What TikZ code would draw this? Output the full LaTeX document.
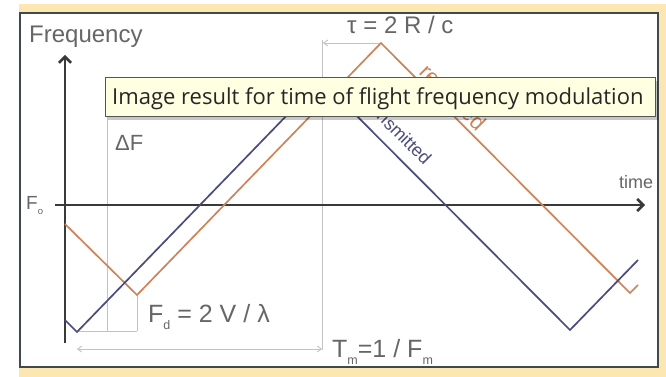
\documentclass[tikz,border=0pt]{standalone}
\usepackage{fontspec}
\setmainfont{Liberation Sans}
\newfontfamily\tipfont{Open Sans}
\usetikzlibrary{arrows.meta}
\definecolor{bgyellow}{HTML}{FCE7B2}
\definecolor{framec}{HTML}{3E4A4C}
\definecolor{axisc}{HTML}{3A3A3A}
\definecolor{bluec}{HTML}{4A4C7C}
\definecolor{orangec}{HTML}{CD845A}
\definecolor{dimc}{HTML}{C2C2C2}
\definecolor{labc}{HTML}{666666}
\definecolor{tipfill}{HTML}{FFFFE1}
\definecolor{tipline}{HTML}{555555}
\newcommand\mysub[1]{\raisebox{-0.3em}{\scalebox{0.5}{#1}}}
\begin{document}
\begin{tikzpicture}[x=1pt,y=-1pt,
  dimline/.style={dimc,line width=0.9pt},
  dimtip/.style={-{Straight Barb[length=4pt,width=6pt]}},
  axisline/.style={axisc,line width=2.6pt,-{Straight Barb[length=6pt,width=12pt]}},
  bluewave/.style={bluec,line width=1.7pt,line join=miter},
  orangewave/.style={orangec,line width=1.7pt,line join=miter},
  lab/.style={labc,inner sep=0pt},
  ]
\useasboundingbox (0,0) rectangle (666,377);
\fill[white] (0,0) rectangle (666,377);
\fill[bgyellow] (19,4) rectangle (666,377);
\draw[framec,line width=1.5pt,fill=white] (20,13) rectangle (658,367);

% wave corner points
\coordinate (b0) at (65,320);
\coordinate (b1) at (77,332);
\coordinate (b2) at (321,80);
\coordinate (b3) at (570,330);
\coordinate (b4) at (638,260);
\coordinate (o0) at (65,224);
\coordinate (o1) at (137,295);
\coordinate (o2) at (381,43);
\coordinate (o3) at (630,293);
\coordinate (o4) at (638,285);

% dimension lines
\coordinate (tauTop) at (322,40);
\coordinate (tauBot) at (322,350);
\coordinate (dfTop) at (107,80);
\coordinate (dfBot) at (107,331);
\coordinate (extL) at (77,331);
\coordinate (extR) at (137,331);
\coordinate (tmL) at (77,349);
\coordinate (tmR) at (322,349);
\coordinate (tauL) at (323,43);
\draw[dimline] (tauTop) -- (tauBot);
\draw[dimline] (dfTop) -- (dfBot);
\draw[dimline] (extL) -- (extR);
\draw[dimline] (o1) -- (extR);
\draw[dimline,dimtip] (o2) -- (tauL);
\draw[dimline,dimtip] (tmR|-tmL) ++(-1,0) -- (tmL);
\draw[dimline,dimtip] (tmL) ++(1,0) -- (tmR);

% axes
\coordinate (yS) at (65,343);
\coordinate (yE) at (65,55);
\coordinate (xS) at (55,205);
\coordinate (xE) at (645,205);
\draw[axisline] (yS) -- (yE);
\draw[axisline] (xS) -- (xE);

% waves
\draw[orangewave] (o0) -- (o1) -- (o2) -- (o3) -- (o4);
\draw[bluewave] (b0) -- (b1) -- (b2) -- (b3) -- (b4);

% labels
\node[lab,anchor=base west] (freq) at (29,43) {\fontsize{24}{26}\selectfont Frequency};
\node[lab,anchor=base west] (timel) at (619,188) {\fontsize{18}{20}\selectfont time};
\node[lab,anchor=base west] (f0) at (26,209) {\fontsize{19}{20}\selectfont F\mysub{o}};
\node[lab,anchor=base west] (dF) at (115,150) {\fontsize{22}{24}\selectfont ΔF};
\node[lab,anchor=base west] (tau) at (347,34) {\fontsize{24}{26}\selectfont τ = 2 R / c};
\node[lab,anchor=base west] (fd) at (148,322) {\fontsize{25}{27}\selectfont F\mysub{d} = 2 V / λ};
\node[lab,anchor=base west] (tm) at (332,357) {\fontsize{25}{27}\selectfont T\mysub{m}=1 / F\mysub{m}};
\node[orangec,inner sep=0pt,rotate=-45] (recv) at (453,97) {\fontsize{22}{24}\selectfont received};
\node[bluec,inner sep=0pt,rotate=-45] (trans) at (397,130) {\fontsize{18}{20}\selectfont transmitted};

% tooltip
\fill[black,opacity=0.22] (108,81) rectangle (658,120);
\draw[tipline,line width=1pt,fill=tipfill] (105,78) rectangle (655,117);
\node[inner sep=0pt,anchor=base west,text=black!85] (tip) at (112,105) {\tipfont\fontsize{22}{24}\selectfont Image result for time of flight frequency modulation};
\end{tikzpicture}
\end{document}
